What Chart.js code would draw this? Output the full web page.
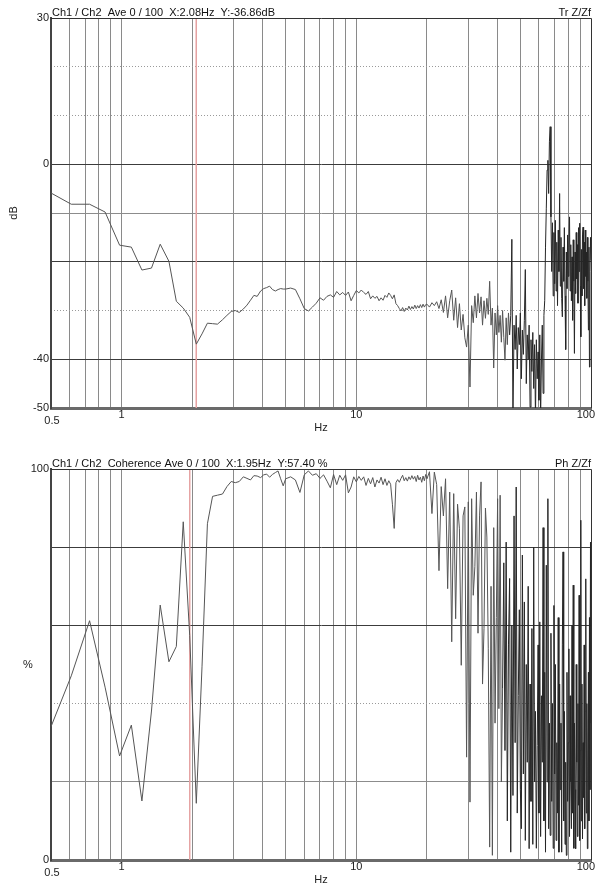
<!DOCTYPE html>
<html>
<head>
<meta charset="utf-8">
<script src="https://cdn.jsdelivr.net/npm/chart.js@4.4.0/dist/chart.umd.min.js"></script>
<style>
  html, body { margin: 0; padding: 0; background: #fff; }
  canvas { display: block; }
</style>
</head>
<body>
<canvas id="chart-tr" width="596" height="447"></canvas>
<canvas id="chart-coh" width="596" height="447"></canvas>
<script>
// frequency grid (Hz)
const freqLow = [0.5, 0.61, 0.73, 0.85, 0.98, 1.1, 1.22, 1.34, 1.46, 1.59, 1.71, 1.83, 1.95, 2.08, 2.2, 2.32, 2.44, 2.56, 2.69, 2.81,
  2.93, 3.05, 3.17, 3.3, 3.42, 3.54, 3.66, 3.78, 3.91, 4.03, 4.15, 4.27, 4.39, 4.52, 4.64, 4.76, 4.88, 5.0];
const freqMid = [5.25, 5.5, 5.75, 6, 6.25, 6.5, 6.75, 7, 7.25, 7.5, 7.75, 8, 8.25, 8.5, 8.75, 9, 9.25, 9.5, 9.75, 10,
  10.25, 10.5, 10.75, 11, 11.25, 11.5, 11.75, 12, 12.25, 12.5, 12.75, 13, 13.25, 13.5, 13.75, 14, 14.25, 14.5, 14.75, 15,
  15.25, 15.5, 15.75, 16, 16.25, 16.5, 16.75, 17, 17.25, 17.5, 17.75, 18, 18.25, 18.5, 18.75, 19, 19.25, 19.5, 19.75];
const freqHigh = [
  20, 20.5, 21, 21.5, 22, 22.5, 23, 23.5, 24, 24.5,
  25, 25.5, 26, 26.5, 27, 27.5, 28, 28.5, 29, 29.5,
  30, 30.5, 31, 31.5, 32, 32.5, 33, 33.5, 34, 34.5,
  35, 35.5, 36, 36.5, 37, 37.5, 38, 38.5, 39, 39.5,
  40, 40.5, 41, 41.5, 42, 42.5, 43, 43.5, 44, 44.5,
  45, 45.5, 46, 46.5, 47, 47.5, 48, 48.5, 49, 49.5,
  50, 50.5, 51, 51.5, 52, 52.5, 53, 53.5, 54, 54.5,
  55, 55.5, 56, 56.5, 57, 57.5, 58, 58.5, 59, 59.5,
  60, 60.5, 61, 61.5, 62, 62.5, 63, 63.5, 64, 64.5,
  65, 65.5, 66, 66.5, 67, 67.5, 68, 68.5, 69, 69.5,
  70, 70.5, 71, 71.5, 72, 72.5, 73, 73.5, 74, 74.5,
  75, 75.5, 76, 76.5, 77, 77.5, 78, 78.5, 79, 79.5,
  80, 80.5, 81, 81.5, 82, 82.5, 83, 83.5, 84, 84.5,
  85, 85.5, 86, 86.5, 87, 87.5, 88, 88.5, 89, 89.5,
  90, 90.5, 91, 91.5, 92, 92.5, 93, 93.5, 94, 94.5,
  95, 95.5, 96, 96.5, 97, 97.5, 98, 98.5, 99, 99.5,
  100];

// transfer magnitude Z/Zf (dB)
const dbLow = [-5.9, -8.2, -8.2, -9.8, -16.6, -17.0, -21.7, -21.3, -16.4, -19.9, -28.1, -29.5, -31.4, -36.9, -34.8, -32.6, -32.7, -32.8, -31.9, -31.0,
  -30.2, -30.0, -30.4, -29.7, -28.9, -27.9, -26.9, -27.1, -26.0, -25.5, -25.3, -25.0, -25.7, -26.0, -25.7, -25.5, -25.6, -25.6];
const dbMid = [-25.4, -25.7, -27.6, -29.6, -30.1, -29.3, -28.5, -27.4, -27.9, -27.1, -26.8, -27.3, -26.1, -26.8, -26.3, -26.9, -26.2, -28.0, -26.9, -25.9,
  -26.4, -25.8, -26.3, -26.7, -26.1, -27.6, -27.0, -27.5, -27.1, -28.0, -27.4, -27.9, -26.9, -27.3, -26.4, -26.9, -27.6, -26.8, -28.6, -29.0,
  -29.6, -30.1, -29.4, -30.2, -29.5, -29.9, -29.1, -29.8, -29.2, -29.7, -28.9, -29.6, -29.0, -29.5, -28.8, -29.4, -28.7, -29.3, -28.8];
const dbHigh = [
  -28.7, -29.3, -28.4, -29.0, -28.2, -29.6, -27.8, -30.4, -27.0, -31.5,
  -28.0, -25.8, -32.0, -27.4, -33.5, -28.6, -34.0, -30.8, -35.6, -37.5,
  -33.0, -45.7, -29.0, -32.5, -27.0, -31.5, -26.5, -30.5, -27.2, -33.0,
  -28.0, -31.6, -27.5, -30.8, -24.0, -33.0, -29.5, -41.8, -30.5, -35.0,
  -29.0, -34.5, -31.0, -36.5, -30.0, -35.5, -40.2, -31.5, -37.0, -30.5,
  -35.0, -31.0, -15.4, -52.0, -33.0, -38.0, -31.0, -42.0, -33.5, -37.0,
  -30.5, -44.0, -34.0, -39.0, -32.0, -21.6, -45.0, -35.0, -40.0, -33.0,
  -49.8, -36.0, -42.5, -34.5, -46.0, -37.0, -52.0, -36.0, -44.0, -38.5,
  -48.4, -35.0, -52.0, -40.0, -33.0, -47.0, -31.0, -28.0, -17.0, -9.0,
  -1.2, 0.8, -6.0, 4.6, 7.7, -10.8, -22.0, -12.0, -27.0, -14.0,
  -24.5, -11.5, -26.0, -16.0, -29.0, -13.5, -22.0, -6.0, -25.0, -15.0,
  -27.5, -31.3, -17.0, -24.0, -13.0, -27.0, -38.0, -18.0, -25.5, -14.5,
  -23.0, -17.0, -10.8, -26.0, -16.5, -28.0, -19.0, -32.0, -15.5, -24.0,
  -38.8, -18.0, -26.5, -14.0, -23.5, -16.5, -28.5, -13.0, -22.0, -12.1,
  -25.0, -35.4, -17.5, -27.0, -14.5, -12.9, -25.5, -16.0, -29.0, -13.5,
  -23.0, -18.0, -27.5, -15.0, -24.0, -34.0, -17.0, -41.6, -22.0, -15.0,
  -19.7];

// coherence (%)
const cohLow = [34.1, 47.1, 61.2, 44.2, 26.6, 34.5, 15.1, 38.1, 65.2, 50.7, 54.6, 86.5, 57.4, 14.5, 49.4, 86.0, 93.0, 93.3, 93.6, 95.5,
  96.8, 96.5, 96.8, 98.0, 97.6, 97.2, 98.3, 98.2, 97.8, 98.5, 98.7, 97.9, 98.6, 99.1, 99.5, 97.5, 95.7, 97.5];
const cohMid = [98.0, 97.2, 94.0, 98.5, 99.5, 98.4, 98.8, 97.6, 98.5, 96.9, 95.2, 98.6, 96.0, 98.4, 97.1, 98.5, 93.9, 95.4, 98.0, 96.7,
  98.1, 97.1, 98.0, 95.8, 97.6, 96.2, 97.8, 95.4, 97.2, 96.4, 97.9, 96.0, 97.5, 95.8, 97.0, 96.1, 91.0, 84.8, 96.5, 97.3,
  96.6, 97.6, 98.4, 97.0, 97.8, 96.9, 98.0, 97.3, 98.3, 97.4, 98.1, 96.8, 98.4, 97.2, 97.9, 96.6, 98.2, 97.0, 98.6];
const cohHigh = [
  97.5, 99.3, 88.6, 99.2, 96.0, 74.0, 95.5, 88.0, 97.5, 69.4,
  94.1, 55.8, 93.7, 61.7, 91.0, 84.7, 49.8, 88.0, 90.3, 26.3,
  91.6, 14.8, 92.4, 67.7, 75.0, 94.1, 58.0, 88.0, 96.7, 45.0,
  59.2, 90.0, 82.6, 54.0, 3.3, 70.0, 1.2, 85.0, 35.0, 62.0,
  92.4, 38.7, 93.3, 20.0, 43.8, 76.0, 28.0, 81.3, 10.0, 55.0,
  72.0, 2.0, 60.0, 16.5, 88.0, 30.0, 95.4, 12.0, 42.1, 64.0,
  18.0, 8.0, 78.0, 22.0, 66.0, 5.0, 50.0, 25.0, 70.0, 2.9,
  45.0, 15.0, 59.2, 4.0, 80.0, 20.0, 38.0, 3.0, 29.3, 55.0,
  12.0, 60.9, 6.0, 42.0, 25.0, 85.0, 10.0, 48.0, 2.0, 75.4,
  20.0, 92.4, 8.0, 35.0, 6.3, 58.0, 15.0, 40.0, 3.0, 65.1,
  22.0, 50.0, 5.0, 30.0, 12.0, 62.0, 2.0, 45.0, 18.0, 35.0,
  2.0, 55.0, 78.8, 10.0, 38.0, 4.0, 25.0, 1.2, 48.0, 15.0,
  30.0, 54.0, 6.0, 42.0, 20.0, 8.0, 60.0, 12.0, 70.3, 3.0,
  35.0, 18.0, 2.9, 50.0, 25.0, 6.0, 40.0, 14.0, 67.7, 5.0,
  28.0, 86.9, 10.0, 45.0, 5.4, 30.0, 16.0, 55.0, 8.0, 38.0,
  71.9, 12.0, 40.0, 2.9, 24.0, 48.0, 10.0, 62.0, 18.0, 81.3,
  35.0];

// vertical grid (Hz) and labelled frequencies
const gridFreqs = [0.6, 0.7, 0.8, 0.9, 1, 2, 3, 4, 5, 6, 7, 8, 9, 10, 20, 30, 40, 50, 60, 70, 80, 90];
const freqLabels = [1, 10, 100];

Chart.defaults.font.family = '"Liberation Sans", Arial, sans-serif';
Chart.defaults.font.size = 11;
Chart.defaults.color = '#222';

const freqs = freqLow.concat(freqMid, freqHigh);
const toPoints = (ys) => freqs.map((f, i) => ({ x: f, y: ys[i] }));

const chartText = {
  id: 'chartText',
  afterDraw(chart, args, opts) {
    const { ctx, chartArea: a, width } = chart;
    const xs = chart.scales.x;
    ctx.save();
    // top + right frame
    ctx.strokeStyle = '#333';
    ctx.lineWidth = 1;
    ctx.beginPath();
    ctx.moveTo(a.left, a.top + 0.5);
    ctx.lineTo(a.right + 0.5, a.top + 0.5);
    ctx.lineTo(a.right + 0.5, a.bottom);
    ctx.stroke();

    ctx.font = '11px "Liberation Sans", Arial, sans-serif';
    ctx.fillStyle = '#111';
    ctx.textBaseline = 'alphabetic';
    ctx.textAlign = 'left';
    ctx.fillText(opts.header, a.left + 1, a.top - 2);
    ctx.textAlign = 'right';
    ctx.fillText(opts.tag, a.right, a.top - 2);

    // frequency labels
    ctx.fillStyle = '#222';
    ctx.textBaseline = 'middle';
    ctx.textAlign = 'center';
    freqLabels.forEach(f => {
      const txt = String(f);
      const w = ctx.measureText(txt).width;
      const px = Math.min(xs.getPixelForValue(f), width - w / 2 - 1);
      ctx.fillText(txt, px, a.bottom + 7);
    });
    ctx.fillText('0.5', xs.getPixelForValue(0.5) + 1, a.bottom + 13);
    ctx.fillText('Hz', (a.left + a.right) / 2, a.bottom + 20);

    // y title
    ctx.translate(opts.yTitleX, (a.top + a.bottom) / 2);
    if (opts.rotate) ctx.rotate(-Math.PI / 2);
    ctx.fillText(opts.yTitle, 0, 0);
    ctx.restore();
  }
};

function makeChart(id, s) {
  const lineColor = (v, solid, light) =>
    solid.includes(v) ? '#3c3c3c' : light.includes(v) ? '#8c8c8c' : 'rgba(0,0,0,0)';
  return new Chart(document.getElementById(id), {
    type: 'line',
    data: {
      datasets: [
        {
          data: toPoints(s.values),
          borderColor: '#555',
          borderWidth: 1,
          pointRadius: 0,
          tension: 0,
          order: 0,
          // the dense high-frequency part reads darker
          segment: { borderColor: (c) => c.p0.parsed.x >= s.darkFrom ? '#262626' : '#555' }
        },
        {
          data: [{ x: s.cursor, y: s.max }, { x: s.cursor, y: s.min }],
          borderColor: '#e6a3a3',
          borderWidth: 1,
          pointRadius: 0,
          order: 1
        }
      ]
    },
    options: {
      responsive: false,
      animation: false,
      layout: { padding: { top: s.padTop, right: 5, left: 0, bottom: 0 } },
      plugins: {
        legend: { display: false },
        tooltip: { enabled: false },
        chartText: { header: s.header, tag: s.tag, yTitle: s.yTitle, yTitleX: s.yTitleX, rotate: s.rotate }
      },
      scales: {
        x: {
          type: 'logarithmic',
          min: 0.5,
          max: 100,
          afterBuildTicks: (axis) => { axis.ticks = gridFreqs.map(v => ({ value: v })); },
          afterFit: (scale) => { scale.height = s.xHeight; },
          ticks: { display: false },
          grid: { color: '#8a8a8a', drawTicks: false },
          border: { color: '#6a6a6a', width: 3 }
        },
        y: {
          position: 'left',
          min: s.min,
          max: s.max,
          afterBuildTicks: (axis) => { axis.ticks = s.ticks.map(v => ({ value: v })); },
          afterFit: (scale) => { scale.width = 51; },
          ticks: {
            padding: 2,
            autoSkip: false,
            callback: (v) => s.labels.includes(v) ? String(v) : ''
          },
          grid: {
            drawTicks: false,
            color: (c) => lineColor(c.tick.value, s.solid, s.light)
          },
          border: { color: '#444', width: 2 }
        },
        yDot: {
          position: 'left',
          min: s.min,
          max: s.max,
          afterBuildTicks: (axis) => { axis.ticks = s.dotted.map(v => ({ value: v })); },
          afterFit: (scale) => { scale.width = 0; },
          ticks: { display: false },
          grid: { drawTicks: false, color: '#9a9a9a' },
          border: { display: false, dash: [1, 2] }
        }
      }
    },
    plugins: [chartText]
  });
}

// y grid values per panel
const dbTicks = [30, 20, 10, 0, -10, -20, -30, -40, -50];
const dbLabels = [30, 0, -40, -50];
const dbSolid = [0, -20, -40];
const dbLight = [-10];
const dbDotted = [20, 10, -30];

const cohTicks = [100, 80, 60, 40, 20, 0];
const cohLabels = [100, 0];
const cohSolid = [80, 60];
const cohLight = [20];
const cohDotted = [40];

makeChart('chart-tr', {
  values: dbLow.concat(dbMid, dbHigh),
  min: -50, max: 30, ticks: dbTicks, labels: dbLabels,
  solid: dbSolid, light: dbLight, dotted: dbDotted,
  cursor: 2.08, darkFrom: 45,
  header: 'Ch1 / Ch2  Ave 0 / 100  X:2.08Hz  Y:-36.86dB',
  tag: 'Tr Z/Zf',
  yTitle: 'dB', yTitleX: 14, rotate: true,
  padTop: 18, xHeight: 39
});

makeChart('chart-coh', {
  values: cohLow.concat(cohMid, cohHigh),
  min: 0, max: 100, ticks: cohTicks, labels: cohLabels,
  solid: cohSolid, light: cohLight, dotted: cohDotted,
  cursor: 1.95, darkFrom: 42,
  header: 'Ch1 / Ch2  Coherence Ave 0 / 100  X:1.95Hz  Y:57.40 %',
  tag: 'Ph Z/Zf',
  yTitle: '%', yTitleX: 28, rotate: false,
  padTop: 22, xHeight: 34
});
</script>
</body>
</html>
